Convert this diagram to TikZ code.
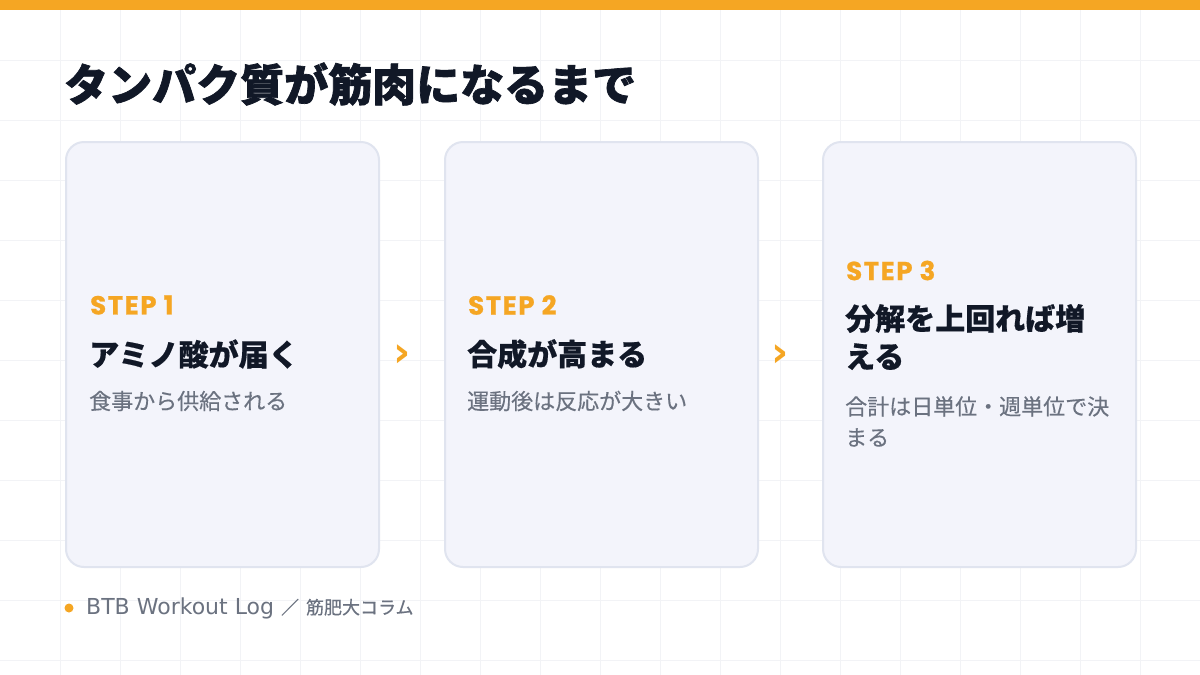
\documentclass[tikz,border=0pt]{standalone}
\usepackage{fontspec}
\newfontfamily\jp{Noto Sans CJK JP}
\newfontfamily\jpheavy[BoldFeatures={FakeBold=1.6}]{Noto Sans CJK JP}
\newfontfamily\jphead[BoldFeatures={FakeBold=0.5}]{Noto Sans CJK JP}
\newfontfamily\jpmed[FakeBold=0.35]{Noto Sans CJK JP}
\newfontfamily\pop[LetterSpace=6, BoldFeatures={FakeBold=0.9}]{Poppins}
\newfontfamily\dvs{DejaVu Sans}
\definecolor{accent}{HTML}{F5A623}
\definecolor{ink}{HTML}{111827}
\definecolor{muted}{HTML}{6B7280}
\definecolor{cardfill}{HTML}{F3F4FB}
\definecolor{cardline}{HTML}{E0E4EF}
\definecolor{gridc}{HTML}{F2F3F6}
\begin{document}
\begin{tikzpicture}[x=1pt,y=-1pt,
  card/.style={draw=cardline, line width=2pt, fill=cardfill, rounded corners=18pt,
    minimum width=313pt, minimum height=425pt, inner sep=0pt, anchor=north west},
  steplabel/.style={anchor=west, inner sep=0pt, text=accent, font=\pop\bfseries\fontsize{26}{26}\selectfont},
  head/.style={anchor=west, inner sep=0pt, text=ink, align=left, font=\jphead\bfseries\fontsize{30}{38}\selectfont},
  sub/.style={anchor=west, inner sep=0pt, text=muted, align=left, font=\jpmed\fontsize{22}{31}\selectfont},
  chev/.style={inner sep=0pt, text=accent, font=\dvs\bfseries\fontsize{42}{42}\selectfont},
  gridline/.style={draw=gridc, line width=1pt}
]
\useasboundingbox (0,0) rectangle (1200,675);
\fill[white] (0,0) rectangle (1200,675);
\foreach \gx in {60,120,...,1140} { \draw[gridline] (\gx,0) -- (\gx,675); }
\foreach \gy in {60,120,...,660} { \draw[gridline] (0,\gy) -- (1200,\gy); }
\fill[accent] (0,0) rectangle (1200,10);

\node[anchor=west, inner sep=0pt, text=ink, font=\jpheavy\bfseries\fontsize{44}{44}\selectfont] (title) at (64,84) {タンパク質が筋肉になるまで};

\node[card] (c1) at (65,141) {};
\node[card] (c2) at (444,141) {};
\node[card] (c3) at (822,141) {};

\node[steplabel] (s1) at (90,305) {STEP 1};
\node[head] (h1) at (89,354) {アミノ酸が届く};
\node[sub] (d1) at (89,401) {食事から供給される};

\node[steplabel] (s2) at (468,305) {STEP 2};
\node[head] (h2) at (467,354) {合成が高まる};
\node[sub] (d2) at (467,401) {運動後は反応が大きい};

\node[steplabel] (s3) at (846,270.5) {STEP 3};
\node[head] (h3) at (845,337) {分解を上回れば増\\える};
\node[sub] (d3) at (845,421.5) {合計は日単位・週単位で決\\まる};

\node[chev] (a1) at (401.7,356) {›};
\node[chev] (a2) at (780,356) {›};

\fill[accent] (69,608) circle (4.5);
\node[anchor=west, inner sep=0pt, text=muted, font=\dvs\fontsize{22}{22}\selectfont] (foot) at (86,608) {BTB Workout Log {\jpmed\fontsize{18}{18}\selectfont ／} {\jpmed\fontsize{18}{18}\selectfont 筋肥大コラム}};
\end{tikzpicture}
\end{document}
